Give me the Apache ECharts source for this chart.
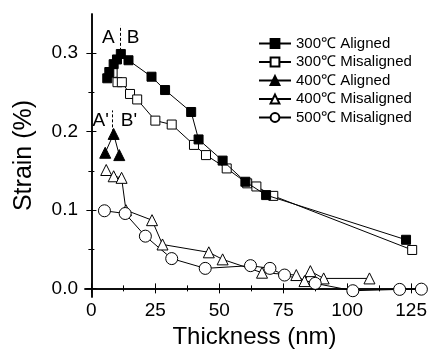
<!DOCTYPE html>
<html>
<head>
<meta charset="utf-8">
<script src="https://cdn.jsdelivr.net/npm/echarts@6/dist/echarts.min.js"></script>
<style>
  html, body { margin: 0; padding: 0; background: #fff; }
  #chart { width: 430px; height: 354px; }
</style>
</head>
<body>
<div id="chart"></div>
<script>
const FONT_FAMILY = "'Liberation Sans', Arial, sans-serif"

// tick positions
const xMajor = [0, 25, 50, 75, 100, 125]
const xMinor = [12.5, 37.5, 62.5, 87.5, 112.5]
const yMajor = [0, 0.1, 0.2, 0.3]
const yMinor = [0.05, 0.15, 0.25]

// 300 °C aligned
const a300X = [6.2, 7.0, 8.7, 10.0, 11.5, 14.5, 23.5, 28.8, 39.0, 41.9, 51.3, 60.2, 68.3, 123.0]
const a300Y = [0.268, 0.276, 0.286, 0.292, 0.299, 0.291, 0.270, 0.253, 0.225, 0.190, 0.163, 0.136, 0.119, 0.062]
// 300 °C misaligned
const m300X = [8.3, 10.2, 11.9, 15.1, 17.9, 25.0, 31.4, 40.1, 44.8, 52.9, 60.9, 64.5, 71.1, 125.4]
const m300Y = [0.275, 0.263, 0.263, 0.248, 0.241, 0.214, 0.209, 0.183, 0.170, 0.153, 0.134, 0.130, 0.118, 0.049]
// 400 °C aligned
const a400X = [5.4, 8.7, 10.9]
const a400Y = [0.173, 0.197, 0.170]
// 400 °C misaligned
const m400X = [5.8, 8.7, 11.8, 13.5, 23.7, 27.8, 45.9, 51.3, 66.7, 80.1, 83.3, 85.6, 90.8, 108.7]
const m400Y = [0.151, 0.143, 0.141, 0.0997, 0.087, 0.056, 0.046, 0.037, 0.020, 0.017, 0.0093, 0.022, 0.0127, 0.0127]
// 500 °C misaligned
const m500X = [5.1, 13.2, 21.1, 31.4, 44.5, 62.2, 69.8, 75.5, 87.5, 102.2, 120.5, 129.0]
const m500Y = [0.099, 0.0955, 0.0666, 0.038, 0.0255, 0.029, 0.0255, 0.017, 0.0064, -0.003, -0.0013, -0.001]

// annotations
const annoText = ['A', 'B', "A'", "B'"]
const annoX = [6.6, 16.3, 3.6, 14.7]
const annoY = [0.320, 0.320, 0.214, 0.214]
const dashX = [11.15, 8.3]
const dashY0 = [0.303, 0.199]
const dashY1 = [0.335, 0.227]

const zip = (xs, ys) => xs.map((x, i) => [x, ys[i]])

const X_RANGE = { min: -2.5, max: 130 }
const Y_RANGE = { min: -0.011, max: 0.35 }
const AXIS_LINE = { show: true, lineStyle: { color: '#000', width: 1.5 } }

function xAxis(position, ticks, len, withLine, withLabel) {
  return {
    type: 'value', position, ...X_RANGE,
    axisLine: withLine ? AXIS_LINE : { show: false },
    axisTick: { show: true, inside: true, length: len, customValues: ticks, lineStyle: { color: '#000', width: 1 } },
    axisLabel: withLabel
      ? { show: true, customValues: ticks, margin: 4, fontFamily: FONT_FAMILY, fontSize: 19, color: '#000' }
      : { show: false },
    splitLine: { show: false },
  }
}

function yAxis(position, ticks, len, withLine, withLabel) {
  return {
    type: 'value', position, ...Y_RANGE,
    axisLine: withLine ? AXIS_LINE : { show: false },
    axisTick: { show: true, inside: true, length: len, customValues: ticks, lineStyle: { color: '#000', width: 1 } },
    axisLabel: withLabel
      ? { show: true, customValues: ticks, margin: 7, formatter: v => v.toFixed(1), fontFamily: FONT_FAMILY, fontSize: 19, color: '#000' }
      : { show: false },
    splitLine: { show: false },
  }
}

function lineSeries(name, data, symbol, size, filled) {
  return {
    name, type: 'line', data, symbol, symbolSize: size,
    showAllSymbol: true, clip: false,
    lineStyle: { color: '#000', width: 1 },
    itemStyle: { color: filled ? '#000' : '#fff', borderColor: '#000', borderWidth: 1 },
    emphasis: { disabled: true },
    z: filled ? 3 : 2,
  }
}

const bottomX = xAxis('bottom', xMajor, 5, true, true)
bottomX.name = 'Thickness (nm)'
bottomX.nameLocation = 'middle'
bottomX.nameGap = 18
bottomX.nameTextStyle = { fontFamily: FONT_FAMILY, fontSize: 24, color: '#000' }

const leftY = yAxis('left', yMajor, 5, true, true)
leftY.name = 'Strain (%)'
leftY.nameLocation = 'middle'
leftY.nameGap = 48
leftY.nameTextStyle = { fontFamily: FONT_FAMILY, fontSize: 25, color: '#000' }

const chart = echarts.init(document.getElementById('chart'))
chart.setOption({
  animation: false,
  grid: { left: 85, right: 1, top: 14, bottom: 57 },
  legend: {
    data: ['300℃ Aligned', '300℃ Misaligned', '400℃ Aligned', '400℃ Misaligned', '500℃ Misaligned'],
    orient: 'vertical',
    left: 258, top: 36, padding: 0,
    itemWidth: 32, itemHeight: 11, itemGap: 3.5,
    textStyle: { fontFamily: FONT_FAMILY, fontSize: 15, color: '#000' },
  },
  xAxis: [
    bottomX,
    xAxis('bottom', xMinor, 3, false, false),
    xAxis('top', xMajor, 5, true, false),
    xAxis('top', xMinor, 3, false, false),
  ],
  yAxis: [
    leftY,
    yAxis('left', yMinor, 3, false, false),
    yAxis('right', yMajor, 5, true, false),
    yAxis('right', yMinor, 3, false, false),
  ],
  series: [
    lineSeries('300℃ Aligned', zip(a300X, a300Y), 'rect', 9, true),
    lineSeries('300℃ Misaligned', zip(m300X, m300Y), 'rect', 9, false),
    lineSeries('400℃ Aligned', zip(a400X, a400Y), 'triangle', 11, true),
    lineSeries('400℃ Misaligned', zip(m400X, m400Y), 'triangle', 11, false),
    lineSeries('500℃ Misaligned', zip(m500X, m500Y), 'circle', 12, false),
    {
      name: 'annotations', type: 'scatter', symbolSize: 0,
      itemStyle: { opacity: 1 },
      data: annoText.map((t, i) => ({ value: [annoX[i], annoY[i]], label: { formatter: t } })),
      label: { show: true, position: 'inside', fontFamily: FONT_FAMILY, fontSize: 19, color: '#000' },
      markLine: {
        silent: true, symbol: 'none', label: { show: false },
        lineStyle: { color: '#000', width: 1, type: [3, 2] },
        data: dashX.map((x, i) => [{ coord: [x, dashY0[i]] }, { coord: [x, dashY1[i]] }]),
      },
      emphasis: { disabled: true },
    },
  ],
})
</script>
</body>
</html>
